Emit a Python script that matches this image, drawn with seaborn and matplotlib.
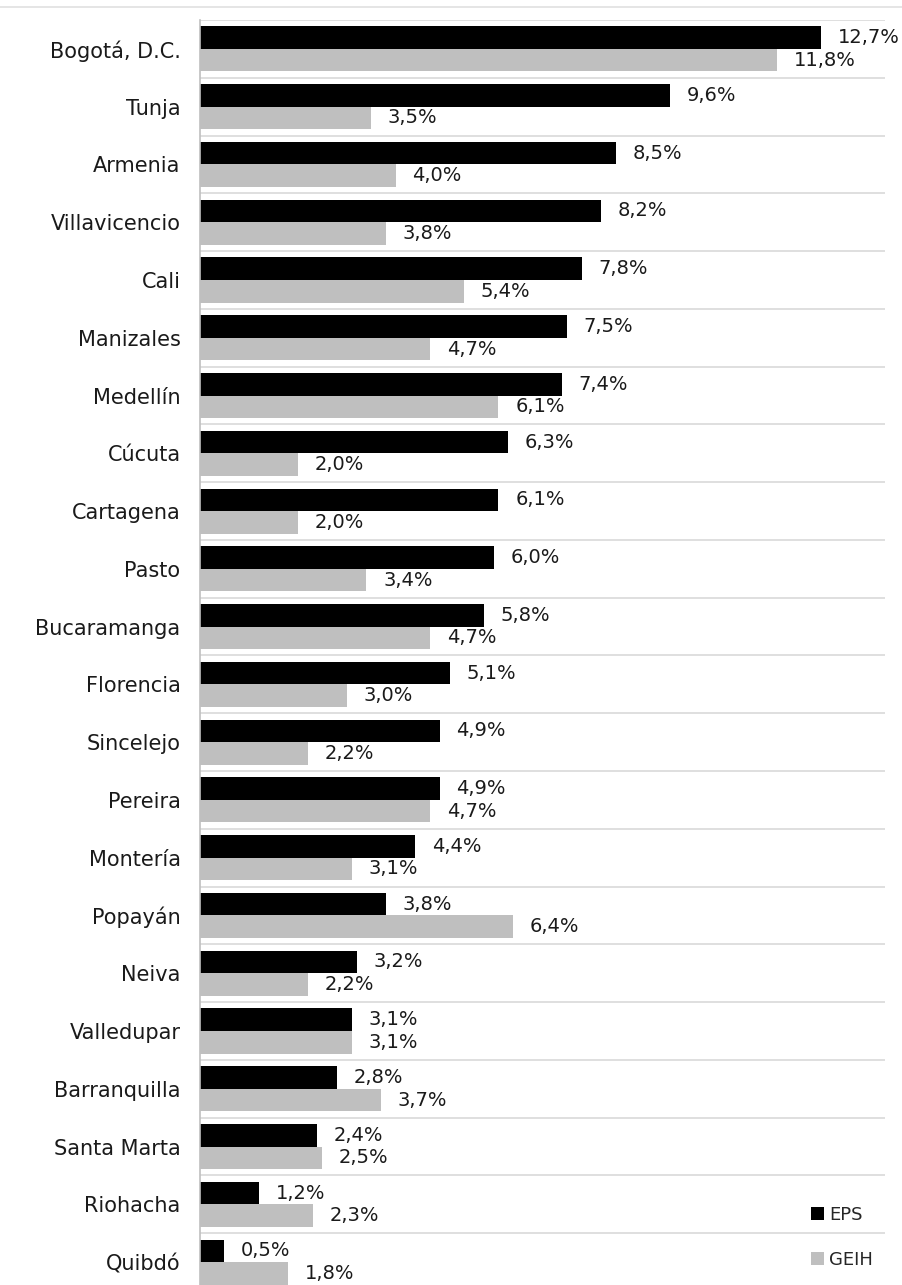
import matplotlib
matplotlib.use("Agg")
import matplotlib.pyplot as plt
import seaborn as sns
import pandas as pd
from matplotlib.lines import Line2D
from matplotlib.patches import Patch

cities = ["Bogotá, D.C.", "Tunja", "Armenia", "Villavicencio", "Cali", "Manizales",
          "Medellín", "Cúcuta", "Cartagena", "Pasto", "Bucaramanga", "Florencia",
          "Sincelejo", "Pereira", "Montería", "Popayán", "Neiva", "Valledupar",
          "Barranquilla", "Santa Marta", "Riohacha", "Quibdó"]
eps = [12.7, 9.6, 8.5, 8.2, 7.8, 7.5, 7.4, 6.3, 6.1, 6.0, 5.8, 5.1,
       4.9, 4.9, 4.4, 3.8, 3.2, 3.1, 2.8, 2.4, 1.2, 0.5]
geih = [11.8, 3.5, 4.0, 3.8, 5.4, 4.7, 6.1, 2.0, 2.0, 3.4, 4.7, 3.0,
        2.2, 4.7, 3.1, 6.4, 2.2, 3.1, 3.7, 2.5, 2.3, 1.8]
series = ["EPS", "GEIH"]
colors = ["#000000", "#bfbfbf"]

df = pd.DataFrame({
    "city": cities * 2,
    "value": eps + geih,
    "serie": [series[0]] * len(cities) + [series[1]] * len(cities),
})

sns.set_theme(style="white")
plt.rcParams["font.family"] = ["DejaVu Sans"]

fig = plt.figure(figsize=(9.03, 12.85), dpi=100)
ax = fig.add_axes([200 / 903, (1285 - 1291) / 1285, 685 / 903, 1271 / 1285])

sns.barplot(data=df, y="city", x="value", hue="serie", palette=colors,
            order=cities, hue_order=series, width=0.78, orient="h",
            edgecolor="none", ax=ax, legend=False)

ax.set_xlim(0, 14.0)
ax.set_ylim(len(cities) - 0.5, -0.5)
ax.set_xlabel("")
ax.set_ylabel("")
ax.set_xticks([])
ax.tick_params(axis="y", length=0, pad=14, labelsize=15, labelcolor="#1a1a1a")

for s in ["top", "right", "bottom"]:
    ax.spines[s].set_visible(False)
ax.spines["left"].set_color("#bfbfbf")
ax.spines["left"].set_linewidth(1.2)

# separators between categories
for b in range(len(cities) + 1):
    ax.axhline(b - 0.5, color="#d9d9d9", lw=1.2, zorder=0)

for cont in ax.containers:
    labels = [f"{v:.1f}%".replace(".", ",") for v in cont.datavalues]
    ax.bar_label(cont, labels=labels, padding=12, fontsize=14, color="#1a1a1a")

handles = [Patch(facecolor=c, edgecolor="none", label=s) for s, c in zip(series, colors)]
leg = fig.legend(handles=handles, loc="lower right", bbox_to_anchor=(0.985, 0.0),
                 frameon=False, fontsize=13, handlelength=0.7, handleheight=0.7,
                 handletextpad=0.3, labelspacing=1.5)

fig.add_artist(Line2D([0, 1], [1 - 7 / 1285, 1 - 7 / 1285], color="#e0e0e0", lw=1.2,
                      transform=fig.transFigure))

fig.savefig("out.png", dpi=100)
